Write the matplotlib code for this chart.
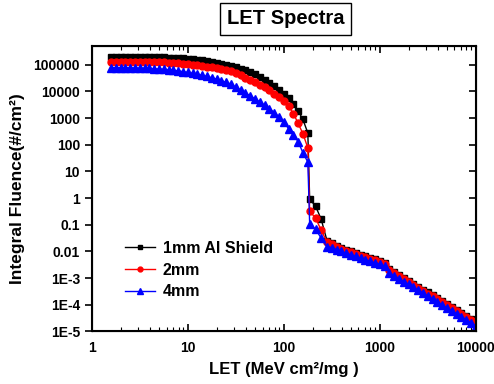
import numpy as np
import matplotlib
matplotlib.use("Agg")
import matplotlib.pyplot as plt

plt.rcParams['font.family'] = ['Liberation Sans', 'DejaVu Sans']
plt.rcParams['font.weight'] = 'bold'

# LET (MeV cm2/mg)
let = [1.58, 1.78, 2.00, 2.24, 2.51, 2.82, 3.16, 3.55, 3.98, 4.47,
       5.01, 5.62, 6.31, 7.08, 7.94, 8.91, 10.0, 11.2, 12.6, 14.1,
       15.8, 17.8, 20.0, 22.4, 25.1, 28.2, 31.6, 35.5, 39.8, 44.7,
       50.1, 56.2, 63.1, 70.8, 79.4, 89.1, 100, 112, 126, 141,
       158, 178, 186, 214, 245, 282, 316, 355, 398, 447,
       501, 562, 631, 708, 794, 891, 1000, 1122, 1259, 1413,
       1585, 1778, 1995, 2239, 2512, 2818, 3162, 3548, 3981, 4467,
       5012, 5623, 6310, 7079, 7943, 8913, 10000]

# integral fluence (#/cm2), read as log10 values from the chart
al_1mm = [5.30, 5.30, 5.30, 5.30, 5.30, 5.30, 5.30, 5.30, 5.29, 5.29,
          5.28, 5.28, 5.27, 5.26, 5.25, 5.24, 5.23, 5.21, 5.19, 5.17,
          5.14, 5.11, 5.08, 5.04, 5.00, 4.96, 4.91, 4.85, 4.79, 4.72,
          4.64, 4.55, 4.44, 4.33, 4.21, 4.07, 3.92, 3.74, 3.52, 3.27,
          2.95, 2.44, -0.04, -0.30, -0.79, -1.60, -1.70, -1.78, -1.86, -1.93,
          -2.00, -2.06, -2.12, -2.18, -2.24, -2.30, -2.36, -2.42, -2.66, -2.77,
          -2.88, -2.99, -3.10, -3.21, -3.32, -3.43, -3.54, -3.65, -3.76, -3.87,
          -3.98, -4.09, -4.20, -4.31, -4.42, -4.53, -4.64]
al_2mm = [5.11, 5.11, 5.11, 5.11, 5.11, 5.11, 5.11, 5.11, 5.11, 5.10,
          5.10, 5.09, 5.08, 5.07, 5.06, 5.04, 5.02, 5.00, 4.98, 4.95,
          4.92, 4.92, 4.88, 4.84, 4.80, 4.75, 4.68, 4.60, 4.50, 4.42,
          4.34, 4.25, 4.15, 4.04, 3.92, 3.79, 3.64, 3.45, 3.17, 2.80,
          2.42, 1.88, -0.49, -0.75, -1.20, -1.65, -1.74, -1.82, -1.90, -1.97,
          -2.04, -2.10, -2.16, -2.22, -2.28, -2.34, -2.40, -2.46, -2.70, -2.81,
          -2.92, -3.03, -3.14, -3.25, -3.36, -3.47, -3.58, -3.69, -3.80, -3.91,
          -4.02, -4.13, -4.24, -4.35, -4.46, -4.57, -4.68]
al_4mm = [4.89, 4.89, 4.89, 4.89, 4.88, 4.88, 4.87, 4.87, 4.86, 4.85,
          4.84, 4.83, 4.81, 4.79, 4.77, 4.74, 4.71, 4.68, 4.64, 4.60,
          4.56, 4.51, 4.46, 4.40, 4.34, 4.27, 4.16, 4.05, 3.94, 3.83,
          3.72, 3.60, 3.48, 3.35, 3.20, 3.04, 2.86, 2.60, 2.36, 2.12,
          1.70, 1.35, -0.98, -1.17, -1.50, -1.82, -1.86, -1.93, -2.00, -2.07,
          -2.13, -2.19, -2.25, -2.31, -2.37, -2.43, -2.49, -2.55, -2.80, -2.91,
          -3.02, -3.13, -3.24, -3.35, -3.46, -3.57, -3.68, -3.79, -3.90, -4.01,
          -4.12, -4.23, -4.34, -4.45, -4.56, -4.67, -4.78]

series_labels = ["1mm Al Shield", "2mm", "4mm"]
yticks = [1e5, 1e4, 1e3, 1e2, 1e1, 1, 0.1, 0.01, 1e-3, 1e-4, 1e-5]
ytick_labels = ["100000", "10000", "1000", "100", "10", "1", "0.1", "0.01",
                "1E-3", "1E-4", "1E-5"]
xticks = [1, 10, 100, 1000, 10000]
xtick_labels = ["1", "10", "100", "1000", "10000"]

fig = plt.figure(figsize=(4.94, 3.84), dpi=100)
ax = fig.add_axes([0.186, 0.137, 0.777, 0.743])

styles = [("black", "s", 4.5), ("red", "o", 5.0), ("blue", "^", 5.5)]
for vals, lab, (c, m, ms) in zip([al_1mm, al_2mm, al_4mm], series_labels, styles):
    ax.plot(let, 10 ** np.array(vals), color=c, marker=m, markersize=ms,
            lw=1.0, label=lab)

ax.set_xscale('log')
ax.set_yscale('log')
ax.set_xlim(1, 10000)
ax.set_ylim(1e-5, 5e5)
ax.set_xticks(xticks)
ax.set_xticklabels(xtick_labels)
ax.set_yticks(yticks)
ax.set_yticklabels(ytick_labels)
ax.tick_params(axis='both', which='major', labelsize=10, length=5, width=1.2)
ax.tick_params(axis='both', which='minor', length=3, width=0.8)
ax.tick_params(axis='x', which='both', direction='in', top=True, pad=7)
ax.tick_params(axis='y', which='major', direction='out')
ax.tick_params(axis='y', which='minor', direction='in')
for s in ax.spines.values():
    s.set_linewidth(1.5)

ax2 = ax.twinx()
ax2.set_yscale('log')
ax2.set_ylim(ax.get_ylim())
ax2.set_yticks(yticks)
ax2.tick_params(axis='y', which='both', direction='in', labelright=False)
ax2.tick_params(axis='y', which='major', length=5, width=1.2)
ax2.tick_params(axis='y', which='minor', length=3, width=0.8)

ax.set_xlabel("LET (MeV cm²/mg )", fontsize=12, fontweight='bold', labelpad=5)
ax.set_ylabel("Integral Fluence(#/cm²)", fontsize=12.5, fontweight='bold', labelpad=6)

ax.legend(loc='lower left', bbox_to_anchor=(0.07, 0.09), frameon=False,
          fontsize=11.5, markerscale=0.7, handlelength=1.9, handletextpad=0.45,
          labelspacing=0.42, borderaxespad=0)

fig.text(0.578, 0.951, "LET Spectra", ha='center', va='center', fontsize=14.5,
         fontweight='bold',
         bbox=dict(boxstyle='square,pad=0.33', fc='white', ec='black', lw=1.0))

fig.savefig("out.png", dpi=100)
